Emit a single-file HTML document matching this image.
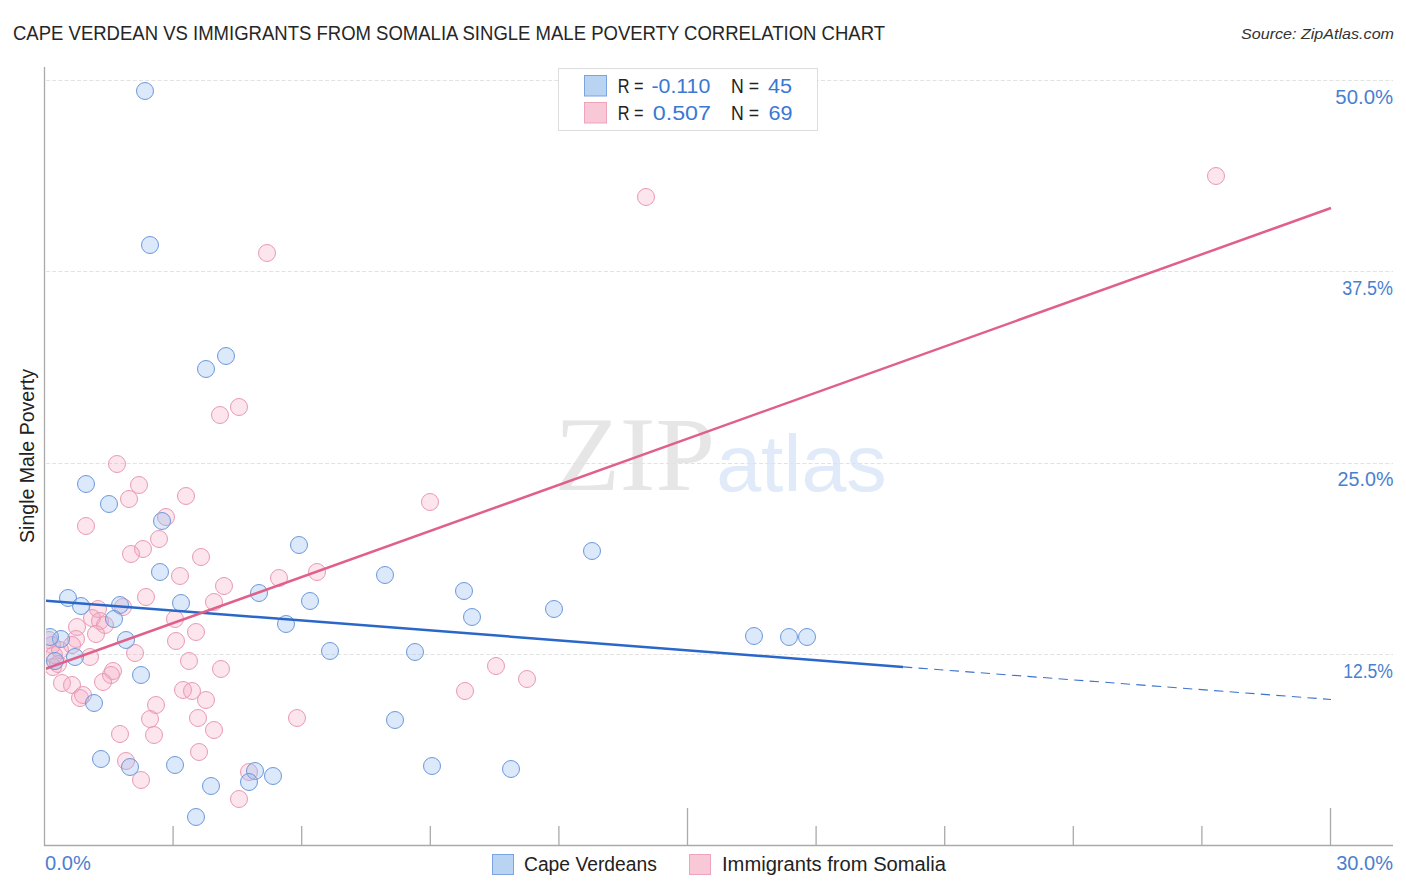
<!DOCTYPE html>
<html><head><meta charset="utf-8">
<style>
html,body{margin:0;padding:0;background:#fff;}
body{width:1406px;height:892px;position:relative;overflow:hidden;font-family:"Liberation Sans",sans-serif;}
svg{position:absolute;left:0;top:0;}
.p{fill:rgba(246,160,190,0.28);stroke:#e89ab4;stroke-width:1;}
.b{fill:rgba(147,187,240,0.33);stroke:#6d98dc;stroke-width:1;}
</style></head><body>
<svg width="1406" height="892" viewBox="0 0 1406 892" font-family="Liberation Sans">
<defs><clipPath id="cp"><rect x="46" y="60" width="1360" height="785"/></clipPath></defs>
<text x="554.4" y="490" font-family="Liberation Serif" font-size="106" fill="#e6e6e6" textLength="160.7" lengthAdjust="spacingAndGlyphs">ZIP</text><text x="716.2" y="491" font-size="80" fill="#e0eaf8" textLength="170.5" lengthAdjust="spacingAndGlyphs">atlas</text>
<g stroke="#e2e2e2" stroke-width="1" stroke-dasharray="4 2.2"><line x1="46" y1="80.5" x2="1393" y2="80.5"/>
<line x1="46" y1="271.5" x2="1393" y2="271.5"/>
<line x1="46" y1="463.5" x2="1393" y2="463.5"/>
<line x1="46" y1="654.5" x2="1393" y2="654.5"/></g>
<g stroke="#aaaaaa" stroke-width="1.3">
<line x1="44.5" y1="67" x2="44.5" y2="846"/>
<line x1="44" y1="845.5" x2="1393" y2="845.5"/>
<line x1="173.1" y1="826" x2="173.1" y2="845.5"/>
<line x1="301.7" y1="826" x2="301.7" y2="845.5"/>
<line x1="430.3" y1="826" x2="430.3" y2="845.5"/>
<line x1="558.9" y1="826" x2="558.9" y2="845.5"/>
<line x1="687.5" y1="808" x2="687.5" y2="845.5"/>
<line x1="816.1" y1="826" x2="816.1" y2="845.5"/>
<line x1="944.7" y1="826" x2="944.7" y2="845.5"/>
<line x1="1073.3" y1="826" x2="1073.3" y2="845.5"/>
<line x1="1201.9" y1="826" x2="1201.9" y2="845.5"/>
<line x1="1330.5" y1="808" x2="1330.5" y2="845.5"/>
</g>
<g clip-path="url(#cp)">
<circle cx="267" cy="253" r="8.5" class="p"/>
<circle cx="646" cy="197" r="8.5" class="p"/>
<circle cx="1216" cy="176" r="8.5" class="p"/>
<circle cx="239" cy="407" r="8.5" class="p"/>
<circle cx="220" cy="415" r="8.5" class="p"/>
<circle cx="117" cy="464" r="8.5" class="p"/>
<circle cx="139" cy="485" r="8.5" class="p"/>
<circle cx="129" cy="499" r="8.5" class="p"/>
<circle cx="186" cy="496" r="8.5" class="p"/>
<circle cx="86" cy="526" r="8.5" class="p"/>
<circle cx="166" cy="517" r="8.5" class="p"/>
<circle cx="159" cy="539" r="8.5" class="p"/>
<circle cx="143" cy="549" r="8.5" class="p"/>
<circle cx="131" cy="554" r="8.5" class="p"/>
<circle cx="201" cy="557" r="8.5" class="p"/>
<circle cx="180" cy="576" r="8.5" class="p"/>
<circle cx="224" cy="586" r="8.5" class="p"/>
<circle cx="279" cy="578" r="8.5" class="p"/>
<circle cx="317" cy="572" r="8.5" class="p"/>
<circle cx="146" cy="597" r="8.5" class="p"/>
<circle cx="123" cy="607" r="8.5" class="p"/>
<circle cx="98" cy="609" r="8.5" class="p"/>
<circle cx="92" cy="618" r="8.5" class="p"/>
<circle cx="100" cy="621" r="8.5" class="p"/>
<circle cx="105" cy="625" r="8.5" class="p"/>
<circle cx="77" cy="627" r="8.5" class="p"/>
<circle cx="96" cy="634" r="8.5" class="p"/>
<circle cx="76" cy="639" r="8.5" class="p"/>
<circle cx="135" cy="653" r="8.5" class="p"/>
<circle cx="90" cy="657" r="8.5" class="p"/>
<circle cx="175" cy="619" r="8.5" class="p"/>
<circle cx="196" cy="632" r="8.5" class="p"/>
<circle cx="176" cy="641" r="8.5" class="p"/>
<circle cx="189" cy="661" r="8.5" class="p"/>
<circle cx="214" cy="602" r="8.5" class="p"/>
<circle cx="221" cy="669" r="8.5" class="p"/>
<circle cx="113" cy="671" r="8.5" class="p"/>
<circle cx="111" cy="675" r="8.5" class="p"/>
<circle cx="103" cy="682" r="8.5" class="p"/>
<circle cx="62" cy="683" r="8.5" class="p"/>
<circle cx="72" cy="685" r="8.5" class="p"/>
<circle cx="53" cy="667" r="8.5" class="p"/>
<circle cx="80" cy="698" r="8.5" class="p"/>
<circle cx="83" cy="695" r="8.5" class="p"/>
<circle cx="183" cy="690" r="8.5" class="p"/>
<circle cx="192" cy="691" r="8.5" class="p"/>
<circle cx="156" cy="705" r="8.5" class="p"/>
<circle cx="150" cy="719" r="8.5" class="p"/>
<circle cx="154" cy="735" r="8.5" class="p"/>
<circle cx="120" cy="734" r="8.5" class="p"/>
<circle cx="198" cy="718" r="8.5" class="p"/>
<circle cx="126" cy="761" r="8.5" class="p"/>
<circle cx="141" cy="780" r="8.5" class="p"/>
<circle cx="206" cy="700" r="8.5" class="p"/>
<circle cx="214" cy="730" r="8.5" class="p"/>
<circle cx="199" cy="752" r="8.5" class="p"/>
<circle cx="297" cy="718" r="8.5" class="p"/>
<circle cx="249" cy="772" r="8.5" class="p"/>
<circle cx="239" cy="799" r="8.5" class="p"/>
<circle cx="430" cy="502" r="8.5" class="p"/>
<circle cx="496" cy="666" r="8.5" class="p"/>
<circle cx="527" cy="679" r="8.5" class="p"/>
<circle cx="465" cy="691" r="8.5" class="p"/>
<circle cx="52" cy="645" r="8.5" class="p"/>
<circle cx="54" cy="655" r="8.5" class="p"/>
<circle cx="60" cy="650" r="8.5" class="p"/>
<circle cx="72" cy="645" r="8.5" class="p"/>
<circle cx="49" cy="640" r="8.5" class="p"/>
<circle cx="58" cy="664" r="8.5" class="p"/>
<circle cx="145" cy="91" r="8.5" class="b"/>
<circle cx="150" cy="245" r="8.5" class="b"/>
<circle cx="226" cy="356" r="8.5" class="b"/>
<circle cx="206" cy="369" r="8.5" class="b"/>
<circle cx="86" cy="484" r="8.5" class="b"/>
<circle cx="109" cy="504" r="8.5" class="b"/>
<circle cx="162" cy="521" r="8.5" class="b"/>
<circle cx="160" cy="572" r="8.5" class="b"/>
<circle cx="68" cy="598" r="8.5" class="b"/>
<circle cx="81" cy="606" r="8.5" class="b"/>
<circle cx="120" cy="605" r="8.5" class="b"/>
<circle cx="114" cy="619" r="8.5" class="b"/>
<circle cx="181" cy="603" r="8.5" class="b"/>
<circle cx="126" cy="640" r="8.5" class="b"/>
<circle cx="61" cy="639" r="8.5" class="b"/>
<circle cx="50" cy="637" r="8.5" class="b"/>
<circle cx="75" cy="657" r="8.5" class="b"/>
<circle cx="55" cy="661" r="8.5" class="b"/>
<circle cx="141" cy="675" r="8.5" class="b"/>
<circle cx="94" cy="703" r="8.5" class="b"/>
<circle cx="101" cy="759" r="8.5" class="b"/>
<circle cx="130" cy="767" r="8.5" class="b"/>
<circle cx="175" cy="765" r="8.5" class="b"/>
<circle cx="196" cy="817" r="8.5" class="b"/>
<circle cx="299" cy="545" r="8.5" class="b"/>
<circle cx="259" cy="593" r="8.5" class="b"/>
<circle cx="310" cy="601" r="8.5" class="b"/>
<circle cx="286" cy="624" r="8.5" class="b"/>
<circle cx="330" cy="651" r="8.5" class="b"/>
<circle cx="385" cy="575" r="8.5" class="b"/>
<circle cx="255" cy="771" r="8.5" class="b"/>
<circle cx="249" cy="782" r="8.5" class="b"/>
<circle cx="273" cy="776" r="8.5" class="b"/>
<circle cx="211" cy="786" r="8.5" class="b"/>
<circle cx="415" cy="652" r="8.5" class="b"/>
<circle cx="395" cy="720" r="8.5" class="b"/>
<circle cx="432" cy="766" r="8.5" class="b"/>
<circle cx="511" cy="769" r="8.5" class="b"/>
<circle cx="464" cy="591" r="8.5" class="b"/>
<circle cx="472" cy="617" r="8.5" class="b"/>
<circle cx="554" cy="609" r="8.5" class="b"/>
<circle cx="592" cy="551" r="8.5" class="b"/>
<circle cx="754" cy="636" r="8.5" class="b"/>
<circle cx="789" cy="637" r="8.5" class="b"/>
<circle cx="807" cy="637" r="8.5" class="b"/>
</g>
<g clip-path="url(#cp)"><line x1="44" y1="600.6" x2="903" y2="666.9" stroke="#2a67c9" stroke-width="2.5"/>
<line x1="903" y1="666.9" x2="1331" y2="699.5" stroke="#3d73cc" stroke-width="1.1" stroke-dasharray="9.3 6.3"/>
<line x1="44" y1="669.4" x2="1331" y2="208" stroke="#e0608a" stroke-width="2.5"/></g>
<rect x="558.5" y="68.5" width="259" height="62" fill="#fff" stroke="#dddddd"/>
<rect x="584.5" y="75.5" width="22" height="20.5" fill="#b9d3f3" stroke="#7ba3e0"/>
<rect x="584.5" y="102.5" width="22" height="20.5" fill="#f9c8d7" stroke="#eda3bb"/>
<rect x="492.5" y="854.5" width="21" height="20" fill="#b9d3f3" stroke="#7ba3e0"/>
<rect x="689.5" y="854.5" width="21" height="20" fill="#f9c8d7" stroke="#eda3bb"/>
<text x="13" y="40" font-size="20" fill="#262626" textLength="872" lengthAdjust="spacingAndGlyphs">CAPE VERDEAN VS IMMIGRANTS FROM SOMALIA SINGLE MALE POVERTY CORRELATION CHART</text>
<text x="1241" y="39" font-size="15.3" font-style="italic" fill="#333" textLength="153" lengthAdjust="spacingAndGlyphs">Source: ZipAtlas.com</text>
<text x="1335.3" y="104" font-size="20" fill="#4a7fd0" textLength="57.8" lengthAdjust="spacingAndGlyphs">50.0%</text>
<text x="1342.2" y="295" font-size="20" fill="#4a7fd0" textLength="50.8" lengthAdjust="spacingAndGlyphs">37.5%</text>
<text x="1337.6" y="486" font-size="20" fill="#4a7fd0" textLength="55.8" lengthAdjust="spacingAndGlyphs">25.0%</text>
<text x="1343.2" y="678" font-size="20" fill="#4a7fd0" textLength="49.8" lengthAdjust="spacingAndGlyphs">12.5%</text>
<text x="1336.2" y="870" font-size="20" fill="#4a7fd0" textLength="56.8" lengthAdjust="spacingAndGlyphs">30.0%</text>
<text x="45.0" y="870" font-size="20" fill="#4a7fd0" textLength="45.8" lengthAdjust="spacingAndGlyphs">0.0%</text>
<text transform="translate(33.6,543) rotate(-90)" x="0" y="0" font-size="20" fill="#222" textLength="174" lengthAdjust="spacingAndGlyphs">Single Male Poverty</text>
<text x="617.8" y="93" font-size="20" fill="#222" textLength="25.8" lengthAdjust="spacingAndGlyphs">R =</text>
<text x="651.5" y="93" font-size="20" fill="#3a78d4" textLength="58.8" lengthAdjust="spacingAndGlyphs">-0.110</text>
<text x="731" y="93" font-size="20" fill="#222" textLength="28" lengthAdjust="spacingAndGlyphs">N =</text>
<text x="768" y="93" font-size="20" fill="#3a78d4" textLength="24" lengthAdjust="spacingAndGlyphs">45</text>
<text x="617.8" y="120" font-size="20" fill="#222" textLength="25.8" lengthAdjust="spacingAndGlyphs">R =</text>
<text x="652.8" y="120" font-size="20" fill="#3a78d4" textLength="58.2" lengthAdjust="spacingAndGlyphs">0.507</text>
<text x="731" y="120" font-size="20" fill="#222" textLength="28" lengthAdjust="spacingAndGlyphs">N =</text>
<text x="768.4" y="120" font-size="20" fill="#3a78d4" textLength="24" lengthAdjust="spacingAndGlyphs">69</text>
<text x="524" y="871" font-size="20" fill="#222" textLength="132.8" lengthAdjust="spacingAndGlyphs">Cape Verdeans</text>
<text x="722" y="871" font-size="20" fill="#222" textLength="224" lengthAdjust="spacingAndGlyphs">Immigrants from Somalia</text>
</svg>
</body></html>
